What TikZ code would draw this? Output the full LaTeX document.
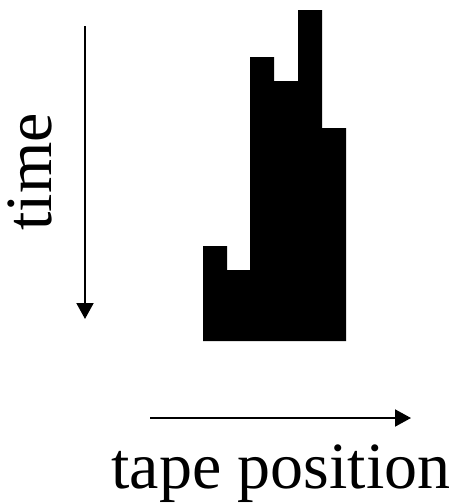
\documentclass[tikz,border=0pt]{standalone}
\usepackage{fontspec}
\setmainfont{Liberation Serif}
\usepackage{tikz}
\usetikzlibrary{arrows.meta, positioning}

\begin{document}
\begin{tikzpicture}[x=1pt, y=-1pt,
        axis/.style={line width=2pt, -{Triangle[length=16pt, width=17pt]}},
        big/.style={font=\fontsize{66}{72}\selectfont, inner sep=0pt}]
        \useasboundingbox (0,0) rectangle (463,504);

        % the tape, one step per column
        \fill (203,341) -- (203,246) -- (227,246) -- (227,270) -- (250,270)
              -- (250,57) -- (274,57) -- (274,81) -- (298,81) -- (298,10)
              -- (322,10) -- (322,128) -- (346,128) -- (346,341) -- cycle;

        \coordinate (t0) at (85,26);
        \coordinate (t1) at (85,319);
        \node (time) [big, rotate=90, anchor=base] at (52,172) {time};

        \coordinate (p0) at (150,418);
        \coordinate (p1) at (411,418);
        \node (pos) [big, anchor=base] at (281,488) {tape position};

        \draw[axis] (t0) -- (t1);
        \draw[axis] (p0) -- (p1);
\end{tikzpicture}
\end{document}
